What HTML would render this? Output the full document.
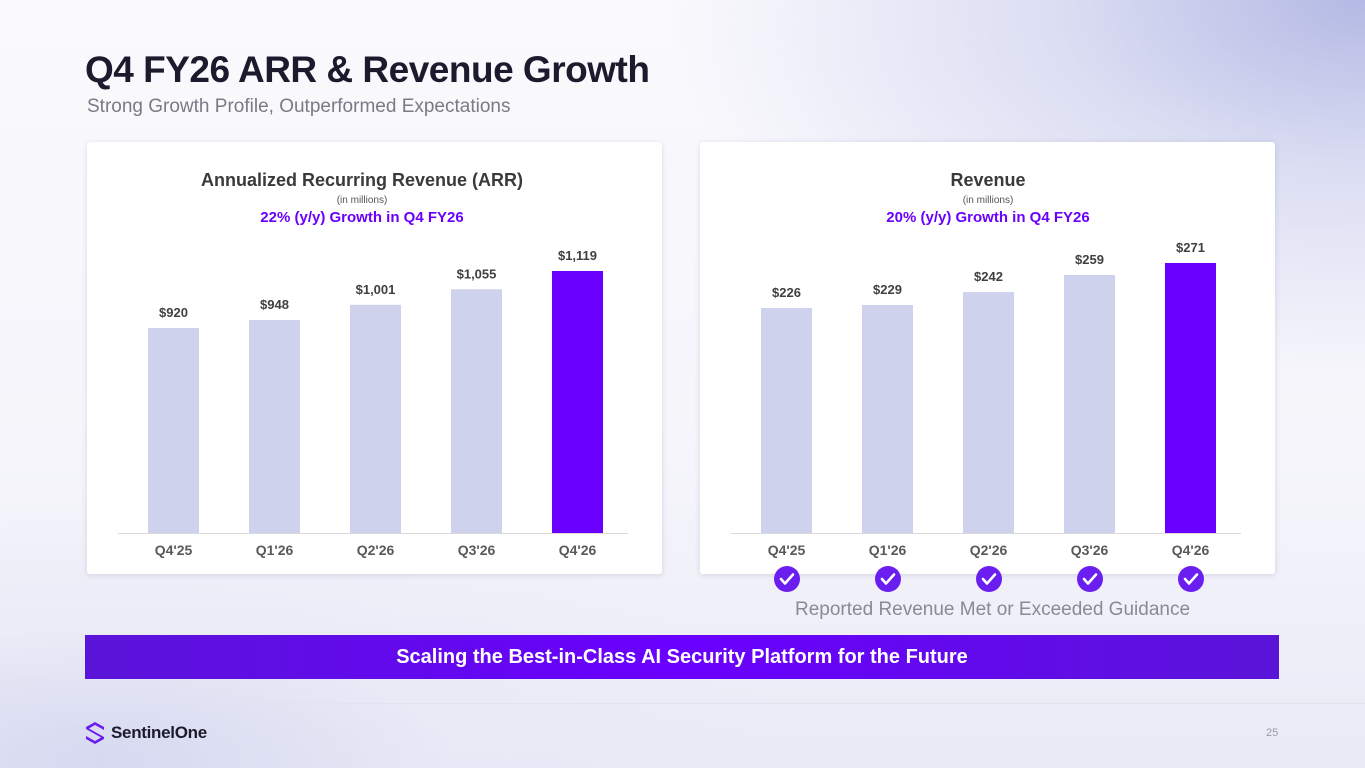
<!DOCTYPE html>
<html><head><meta charset="utf-8"><style>
html,body{margin:0;padding:0;}
body{width:1365px;height:768px;overflow:hidden;position:relative;font-family:"Liberation Sans",Arial,sans-serif;
background:radial-gradient(ellipse 700px 380px at 1365px 0px,#b4b9e4 0%,rgba(200,204,236,0.6) 45%,rgba(255,255,255,0) 100%),
radial-gradient(ellipse 700px 260px at 100px 760px,#d6d9f0 0%,rgba(230,232,246,0.5) 50%,rgba(255,255,255,0) 100%),
linear-gradient(180deg,#fafafd 0%,#f5f5fb 60%,#e9eaf6 100%);}
.abs{position:absolute;}
.card{position:absolute;background:#fff;border-radius:3px;box-shadow:0 1px 6px rgba(80,80,120,0.18);}
</style></head><body>
<div class="abs" style="left:85px;top:49px;font-size:37px;font-weight:bold;color:#1c1b2e;letter-spacing:-0.5px;">Q4 FY26 ARR &amp; Revenue Growth</div>
<div class="abs" style="left:87px;top:96px;font-size:19px;color:#7a7a85;">Strong Growth Profile, Outperformed Expectations</div>
<div class="card" style="left:87px;top:142px;width:575px;height:432px;"></div>
<div class="card" style="left:700px;top:142px;width:575px;height:432px;"></div>
<div class="abs" style="left:795px;top:599px;font-size:19px;color:#8a8a95;">Reported Revenue Met or Exceeded Guidance</div>
<div class="abs" style="left:85px;top:635px;width:1194px;height:44px;background:linear-gradient(90deg,#5a14d8,#6a00ff 50%,#5a14d8);color:#fff;font-weight:bold;font-size:20px;text-align:center;line-height:44px;">Scaling the Best-in-Class AI Security Platform for the Future</div>
<div class="abs" style="left:0;top:703px;width:1365px;height:1px;background:#e2e3ef;"></div>
<div class="abs" style="left:85px;top:720px;height:26px;display:flex;align-items:center;">
<svg width="20" height="24" viewBox="0 0 20 24"><path d="M10 1 L19 6 L19 9 L10 4 L4 7.5 L19 16 L19 18 L10 23 L1 18 L1 15 L10 20 L16 16.5 L1 8 L1 6 Z" fill="#6a1ff0"/></svg>
<span style="margin-left:6px;font-weight:bold;font-size:17px;color:#1c1b2e;letter-spacing:-0.3px;">SentinelOne</span></div>
<div class="abs" style="left:1266px;top:727px;font-size:11px;color:#9a9aa5;">25</div>
<svg id="chart" class="abs" style="left:0;top:0" width="1365" height="768"></svg>
<script>
const quarters=["Q4'25","Q1'26","Q2'26","Q3'26","Q4'26"];
const arrValues=[920,948,1001,1055,1119];
const arrLabels=["$920","$948","$1,001","$1,055","$1,119"];
const revValues=[226,229,242,259,271];
const revLabels=["$226","$229","$242","$259","$271"];
const NS="http://www.w3.org/2000/svg";
const svg=document.getElementById('chart');
function mk(tag,attrs,text){const e=document.createElementNS(NS,tag);for(const k in attrs)e.setAttribute(k,attrs[k]);if(text!==undefined)e.textContent=text;svg.appendChild(e);return e;}
const base=533;
function arrY(v){return base-(v-204)*(262/915);}
function revY(v){return base-(v-1)*(270/270);}
function drawChart(prefix,left,titleX,values,labels,yFn,title,growth,checks){
  const cx=titleX;
  let t=mk('text',{x:cx,y:186,'text-anchor':'middle','font-size':18,'font-weight':'bold',fill:'#3a3a3a'},title);
  
  t=mk('text',{x:cx,y:203,'text-anchor':'middle','font-size':10,fill:'#555'},'(in millions)');
  
  t=mk('text',{x:cx,y:222,'text-anchor':'middle','font-size':15,'font-weight':'bold',fill:'#6a00ff'},growth);
  
  const ax=mk('line',{x1:left+31,x2:left+541,y1:base+0.5,y2:base+0.5,stroke:'#d9d9d9','stroke-width':1});
  
  values.forEach((v,i)=>{
    const c=left+86+i*101, y=yFn(v), last=i===values.length-1;
    const b=mk('rect',{x:c-25,y:y,width:51,height:base-y,fill:last?'#6a00ff':'#ced2ec'});
    
    const l=mk('text',{x:c+0.5,y:y-11,'text-anchor':'middle','font-size':13,'font-weight':'bold',fill:'#404040'},labels[i]);
    
    const q=mk('text',{x:c+0.5,y:555,'text-anchor':'middle','font-size':14,'font-weight':'bold',fill:'#595959'},quarters[i]);
    
    if(checks){
      const ci=mk('circle',{cx:c+1,cy:579,r:13,fill:'#6a1ff0'});
      
      mk('path',{d:`M${c-5} 579 L${c-1} 583.5 L${c+7} 574.5`,fill:'none',stroke:'#fff','stroke-width':2.6,'stroke-linecap':'round','stroke-linejoin':'round'});
    }
  });
}
drawChart('arr',87,362,arrValues,arrLabels,arrY,'Annualized Recurring Revenue (ARR)','22% (y/y) Growth in Q4 FY26',false);
drawChart('rev',700,988,revValues,revLabels,revY,'Revenue','20% (y/y) Growth in Q4 FY26',true);
</script>
</body></html>
